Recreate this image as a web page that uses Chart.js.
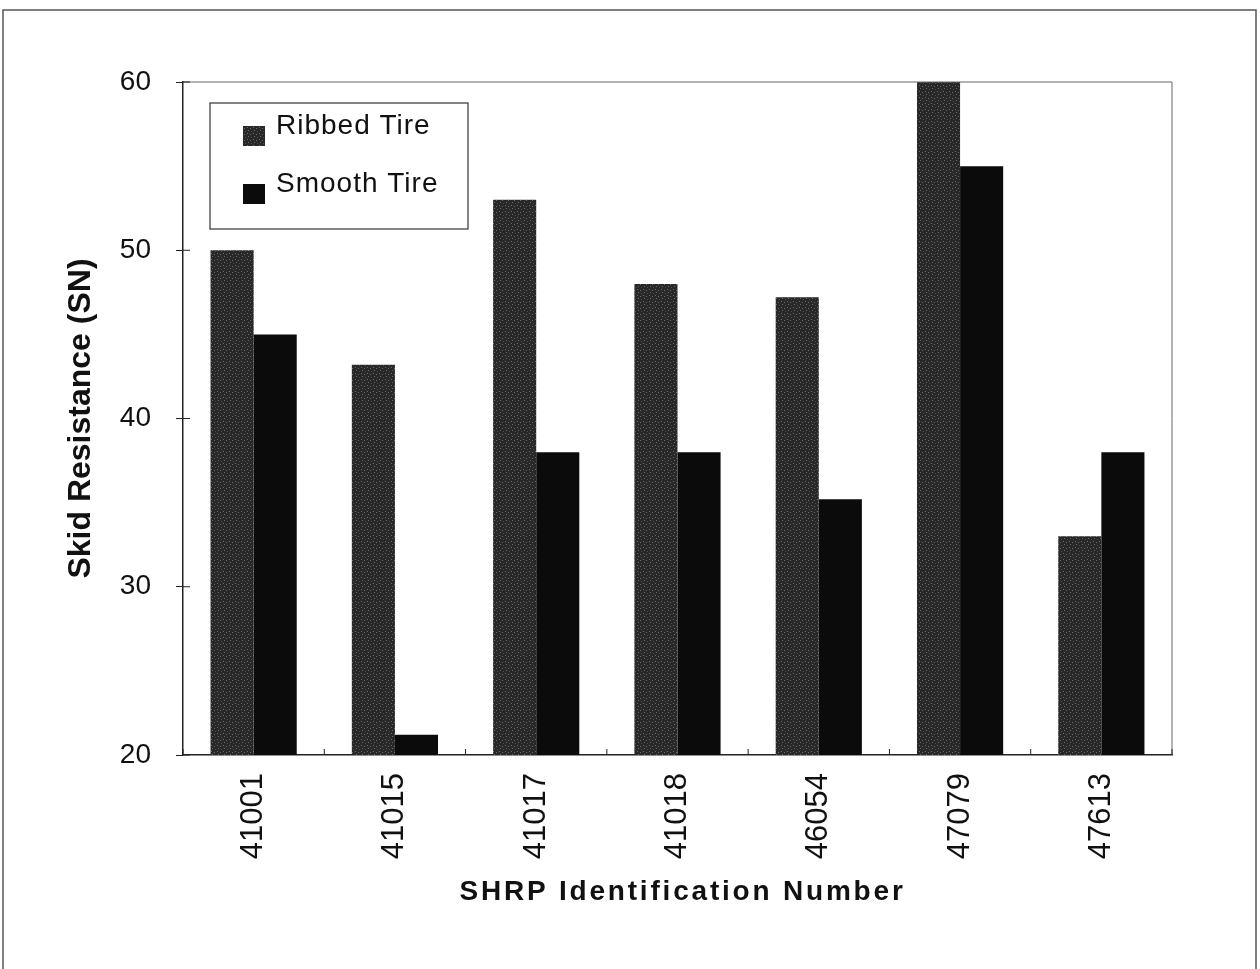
<!DOCTYPE html>
<html>
<head>
<meta charset="utf-8">
<script src="https://cdn.jsdelivr.net/npm/chart.js@4.4.1/dist/chart.umd.min.js"></script>
<style>
  html, body { margin: 0; padding: 0; background: #fff; }
  #wrap { width: 1260px; height: 969px; position: relative; }
</style>
</head>
<body>
<div id="wrap"><canvas id="c"></canvas></div>
<script>
// data
const sites = ["41001", "41015", "41017", "41018", "46054", "47079", "47613"];
const ribbed = [50, 43.2, 53, 48, 47.2, 60, 33];
const smooth = [45, 21.2, 38, 38, 35.2, 55, 38];
const yTicks = [20, 30, 40, 50, 60];
const xTitle = "SHRP Identification Number";

const FONT = "'Liberation Sans', Arial, sans-serif";

// stippled dark grey, like the scan
function stipple() {
  const p = document.createElement("canvas");
  p.width = 6; p.height = 6;
  const g = p.getContext("2d");
  g.fillStyle = "#282828";
  g.fillRect(0, 0, 6, 6);
  g.fillStyle = "#6a6a6a";
  g.fillRect(1, 1, 1, 1);
  g.fillRect(4, 2, 1, 1);
  g.fillRect(2, 4, 1, 1);
  g.fillStyle = "#4a4a4a";
  g.fillRect(5, 5, 1, 1);
  return g.createPattern(p, "repeat");
}
const ribbedFill = stipple();

// frame, inner tick marks, top/right border, x title and legend box
const extras = {
  id: "extras",
  afterDraw(chart) {
    const ctx = chart.ctx;
    const a = chart.chartArea;
    const y = chart.scales.y;
    const x = chart.scales.x;
    ctx.save();
    // page frame
    ctx.strokeStyle = "#555";
    ctx.lineWidth = 1.5;
    ctx.beginPath();
    ctx.moveTo(3, 975); ctx.lineTo(3, 10); ctx.lineTo(1256, 10); ctx.lineTo(1256, 975);
    ctx.stroke();
    // plot border top + right
    ctx.strokeStyle = "#666";
    ctx.lineWidth = 1;
    ctx.beginPath();
    ctx.moveTo(a.left, a.top); ctx.lineTo(a.right, a.top); ctx.lineTo(a.right, a.bottom);
    ctx.stroke();
    // inner halves of tick marks
    ctx.strokeStyle = "#222";
    ctx.beginPath();
    yTicks.forEach(v => {
      const py = y.getPixelForValue(v);
      ctx.moveTo(a.left, py); ctx.lineTo(a.left + 7, py);
    });
    for (let i = 0; i <= sites.length; i++) {
      const px = x.getPixelForValue(i - 0.5);
      ctx.moveTo(px, a.bottom); ctx.lineTo(px, a.bottom - 6);
    }
    ctx.stroke();
    // x axis title, spaced out as in the original
    ctx.fillStyle = "#111";
    ctx.font = "bold 28px " + FONT;
    ctx.letterSpacing = "2.8px";
    ctx.textAlign = "center";
    ctx.textBaseline = "middle";
    ctx.fillText(xTitle, (a.left + a.right) / 2 + 5, 892);
    // legend
    const lx = a.left + 27, ly = a.top + 21, lw = 258, lh = 126;
    ctx.fillStyle = "#fff";
    ctx.fillRect(lx, ly, lw, lh);
    ctx.strokeStyle = "#333";
    ctx.lineWidth = 1.2;
    ctx.strokeRect(lx, ly, lw, lh);
    ctx.font = "28px " + FONT;
    ctx.letterSpacing = "1px";
    ctx.textAlign = "left";
    chart.data.datasets.forEach((ds, i) => {
      const cy = ly + 23 + i * 58;
      ctx.fillStyle = ds.backgroundColor;
      ctx.fillRect(lx + 33, cy, 22, 20);
      ctx.fillStyle = "#111";
      ctx.fillText(ds.label, lx + 66, cy);
    });
    ctx.restore();
  }
};

new Chart(document.getElementById("c"), {
  type: "bar",
  data: {
    labels: sites,
    datasets: [
      { label: "Ribbed Tire", data: ribbed, backgroundColor: ribbedFill, borderWidth: 0 },
      { label: "Smooth Tire", data: smooth, backgroundColor: "#0b0b0b", borderWidth: 0 }
    ]
  },
  options: {
    responsive: true,
    maintainAspectRatio: false,
    animation: false,
    layout: { padding: { top: 82, right: 88, left: 0, bottom: 0 } },
    plugins: { legend: { display: false }, tooltip: { enabled: false } },
    datasets: { bar: { categoryPercentage: 0.61, barPercentage: 1 } },
    scales: {
      x: {
        grid: { display: false, drawOnChartArea: false, tickLength: 8 },
        border: { color: "#222", width: 1.5 },
        ticks: {
          color: "#111", font: { family: FONT, size: 31 },
          minRotation: 90, maxRotation: 90, padding: 10
        },
        title: { display: false },
        afterFit(s) { s.height = 214; }
      },
      y: {
        min: 20, max: 60,
        grid: { drawOnChartArea: false, tickLength: 7, color: "#222" },
        border: { color: "#222", width: 1.5 },
        ticks: {
          stepSize: 10, color: "#111", padding: 25,
          font: { family: FONT, size: 28 }
        },
        title: {
          display: true, text: "Skid Resistance (SN)", color: "#111",
          font: { family: FONT, size: 32, weight: "bold" },
          padding: { top: 62, bottom: 0 }
        },
        afterFit(s) { s.width = 183; }
      }
    }
  },
  plugins: [extras]
});
</script>
</body>
</html>
